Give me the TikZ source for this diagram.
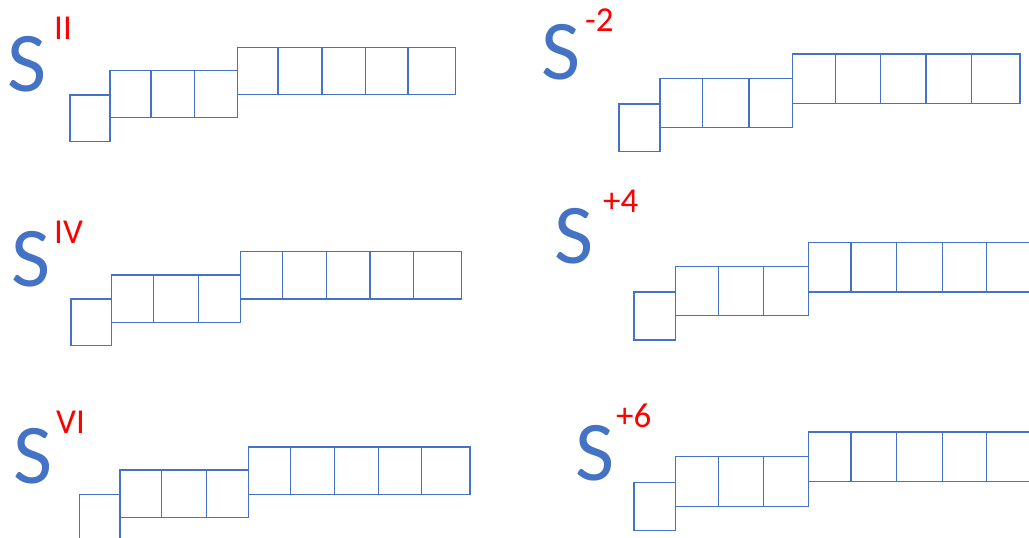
\documentclass[tikz,border=0pt]{standalone}
\usepackage{fontspec}
\setmainfont{Carlito}
\definecolor{sblue}{HTML}{4472C4}
\definecolor{sred}{HTML}{FF0000}
\newcommand\cellrow[3]{\foreach \xa/\xb in {#3}{\draw[cell] (\xa,#1) rectangle (\xb,#2);}}
\begin{document}
\begin{tikzpicture}[x=1pt,y=-1pt,
  cell/.style={draw=sblue,line width=1.1pt},
  bigS/.style={text=sblue,font=\fontsize{85}{85}\selectfont,inner sep=0,anchor=base west},
  supl/.style={text=sred,font=\fontsize{35}{35}\selectfont,inner sep=0,anchor=base west}]
\useasboundingbox (0,0) rectangle (1029,538);
\clip (0,0) rectangle (1029,538);
% panel 1
\node[bigS] (s1) at (7,91) {S};
\node[supl] (p1) at (54,39) {II};
\cellrow{95}{141.7}{70/110}
\cellrow{70.3}{117.7}{110/151,151/194.3,194.3/237.3}
\cellrow{47.7}{94.7}{237.3/278,278/322,322/365.3,365.3/408,408/455.3}
% panel 2
\node[bigS] (s2) at (541,79) {S};
\node[supl] (p2) at (585,31) {-2};
\cellrow{104}{151.7}{619/660}
\cellrow{78.7}{127.3}{660/702.7,702.7/749,749/792.3}
\cellrow{54}{103.3}{792.3/835.3,835.3/880.7,880.7/926,926/971.3,971.3/1020}
% panel 3
\node[bigS] (s3) at (11,286) {S};
\node[supl] (p3) at (54,243) {IV};
\cellrow{299}{345.7}{71/111.7}
\cellrow{275}{322.3}{111.7/153.7,153.7/198.7,198.7/240.7}
\cellrow{251.7}{299}{240.7/282.3,282.3/326.7,326.7/370,370/413.7,413.7/461.7}
% panel 4
\node[bigS] (s4) at (554,263) {S};
\node[supl] (p4) at (603,212) {+4};
\cellrow{292}{340}{634/675.7}
\cellrow{266.7}{315.7}{675.7/718.3,718.3/763.7,763.7/808.7}
\cellrow{242.3}{292}{808.7/851,851/896.7,896.7/942.7,942.7/986.7,986.7/1032}
% panel 5
\node[bigS] (s5) at (13,483) {S};
\node[supl] (p5) at (56,433) {VI};
\cellrow{494.3}{541}{79.3/120}
\cellrow{470}{517.3}{120/161.7,161.7/206.7,206.7/248.3}
\cellrow{447}{494.3}{248.3/290.3,290.3/334.3,334.3/378.3,378.3/421.7,421.7/470}
% panel 6
\node[bigS] (s6) at (575,480) {S};
\node[supl] (p6) at (616,427) {+6};
\cellrow{482.3}{530.7}{634/675.7}
\cellrow{456.7}{506.3}{675.7/718.3,718.3/763.7,763.7/808.3}
\cellrow{432}{481.7}{808.3/851,851/896.7,896.7/942.3,942.3/986.7,986.7/1032}
\end{tikzpicture}
\end{document}
